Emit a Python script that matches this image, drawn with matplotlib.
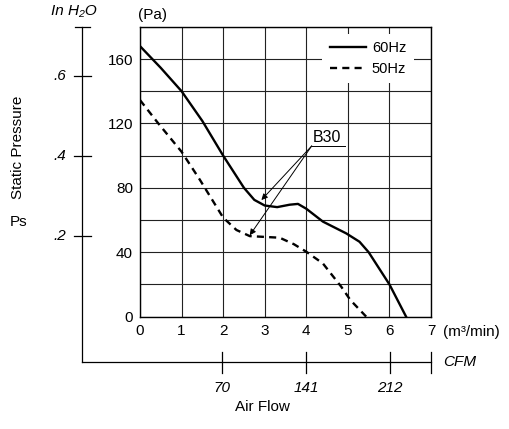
import matplotlib
matplotlib.use('Agg')
import matplotlib.pyplot as plt

plt.rcParams['font.family'] = ['Liberation Sans', 'DejaVu Sans']

# air flow (m3/min) vs static pressure (Pa)
flow_60 = [0, 0.5, 1, 1.5, 2, 2.5, 2.75, 3.0, 3.3, 3.6, 3.8, 4.0, 4.4, 4.96, 5.28, 5.5, 6.0, 6.4]
ps_60 = [168, 154.5, 140, 121.5, 100, 80, 72.5, 69, 68, 69.5, 70, 67, 59, 51.7, 46.5, 40, 20, 0]
flow_50 = [0, 0.44, 1, 1.44, 2, 2.32, 2.64, 3.0, 3.36, 3.7, 4.0, 4.4, 4.84, 5.06, 5.44]
ps_50 = [134.5, 120, 102.4, 85, 61.5, 53.8, 50, 49.5, 49, 45, 40.3, 33, 18.6, 10.3, 0]

x_ticks = [0, 1, 2, 3, 4, 5, 6, 7]
y_ticks = [0, 40, 80, 120, 160]
inh2o_ticks = [0.2, 0.4, 0.6]
inh2o_labels = ['.2', '.4', '.6']
cfm_ticks = [70, 141, 212]

PA_PER_INH2O = 249.09
CFM_PER_M3MIN = 35.315
FS = 11

fig = plt.figure(figsize=(5.1, 4.29), dpi=100)
ax = fig.add_axes([0.2745, 0.262, 0.5706, 0.6755])
ax.set_xlim(0, 7)
ax.set_ylim(0, 180)
ax.set_xticks(x_ticks)
ax.set_yticks(y_ticks)
ax.set_yticks([20, 60, 100, 140, 180], minor=True)
ax.tick_params(which='both', length=0, labelsize=FS, pad=5)
ax.grid(True, which='both', color='#222222', lw=0.8)
ax.set_axisbelow(True)
for s in ax.spines.values():
    s.set_linewidth(1.0)

ax.plot(flow_60, ps_60, color='k', lw=1.7, label='60Hz', zorder=3)
ax.plot(flow_50, ps_50, color='k', lw=1.7, ls=(0, (3, 2.2)), label='50Hz', zorder=3)

leg = ax.legend(loc='upper right', bbox_to_anchor=(0.94, 0.975), borderaxespad=0,
                frameon=True, fancybox=False, edgecolor='none', framealpha=1,
                fontsize=FS - 0.5, handlelength=2.5, handletextpad=0.4,
                labelspacing=0.45, borderpad=0.5)

# B30 callout
ax.text(4.49, 111.5, 'B30', ha='center', va='center', fontsize=FS + 0.5)
ax.plot([4.13, 4.92], [106, 106], color='k', lw=0.7)
for tx, ty in [(2.92, 72.4), (2.64, 50.5)]:
    ax.annotate('', xy=(tx, ty), xytext=(4.13, 106),
                arrowprops=dict(arrowstyle='-|>', lw=0.7, color='k',
                                mutation_scale=9, shrinkA=0, shrinkB=0))

ax.text(-0.05, 183, '(Pa)', ha='left', va='bottom', fontsize=FS)
ax.text(7.3, -9.5, '(m³/min)', ha='left', va='center', fontsize=FS)

# secondary scales: inches of water and CFM
lx, by = -1.39, -28.2
kw = dict(color='k', lw=0.9, clip_on=False)
ax.plot([lx, lx], [180, by], **kw)
ax.plot([lx, 7], [by, by], **kw)
ax.plot([lx - 0.18, lx + 0.18], [180, 180], **kw)
for v, lab in zip(inh2o_ticks, inh2o_labels):
    p = v * PA_PER_INH2O
    ax.plot([lx - 0.2, lx + 0.2], [p, p], **kw)
    ax.text(lx - 0.38, p, lab, ha='right', va='center', fontsize=FS, style='italic')
for v in cfm_ticks + [7 * CFM_PER_M3MIN]:
    q = v / CFM_PER_M3MIN
    ax.plot([q, q], [by - 7, by + 6.5], **kw)
for v in cfm_ticks:
    q = v / CFM_PER_M3MIN
    ax.text(q, by - 16, str(v), ha='center', va='center', fontsize=FS, style='italic')
ax.text(-1.6, 190, 'In H₂O', ha='center', va='center', fontsize=FS, style='italic')
ax.text(7.3, by, 'CFM', ha='left', va='center', fontsize=FS, style='italic')
ax.text(2.94, -56, 'Air Flow', ha='center', va='center', fontsize=FS)
ax.text(-2.93, 105, 'Static Pressure', ha='center', va='center', rotation=90, fontsize=FS)
ax.text(-2.93, 58.6, 'Ps', ha='center', va='center', fontsize=FS)

fig.savefig('out.png', dpi=100)
